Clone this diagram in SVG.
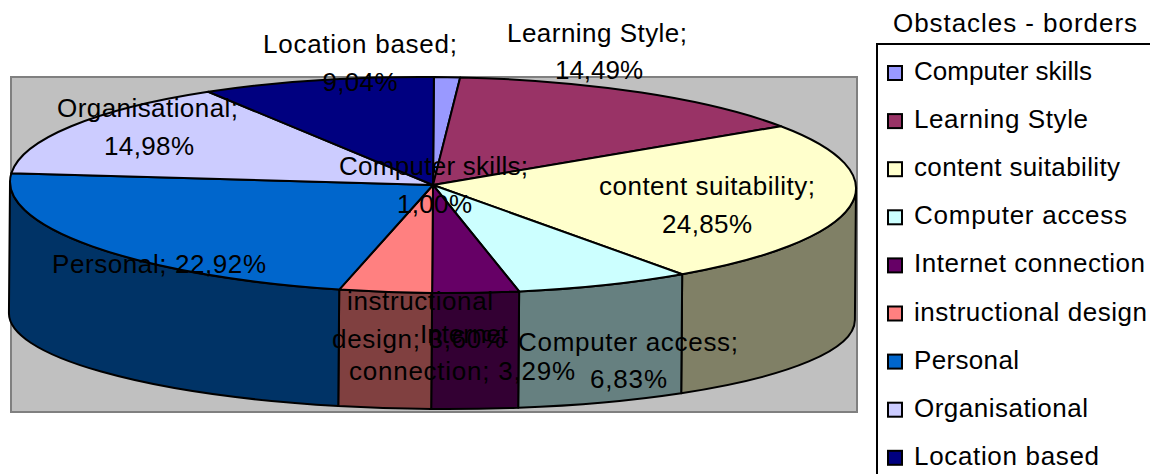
<svg xmlns="http://www.w3.org/2000/svg" width="1150" height="474" viewBox="0 0 1150 474">
<style>
text{font-family:"Liberation Sans",Arial,Helvetica,sans-serif;font-size:26px;fill:#000}
.lbl{text-anchor:middle}
.pie path{stroke:#000;stroke-width:2;stroke-linejoin:round}
.sw{stroke:#000;stroke-width:2}
</style>
<rect width="1150" height="474" fill="#fff"/>
<g id="plot-area">
<rect x="11" y="77" width="846" height="335" fill="#c0c0c0" stroke="#808080" stroke-width="2"/>
</g>
<g class="pie" transform="rotate(0.47 433 185)">
<g id="sides">
<path id="side-content-suitability" fill="#808066" d="M856,185 A423,108 0 0 1 682.91,272.14 L682.91,391.13 A423,92.5 0 0 0 856,316.5 Z"/>
<path id="side-computer-access" fill="#668080" d="M682.91,272.14 A423,108 0 0 1 520,290.69 L520,407.02 A423,92.5 0 0 0 682.91,391.13 Z"/>
<path id="side-internet-connection" fill="#330033" d="M520,290.69 A423,108 0 0 1 433,293 L433,409 A423,92.5 0 0 0 520,407.02 Z"/>
<path id="side-instructional-design" fill="#804040" d="M433,293 A423,108 0 0 1 340.08,290.37 L340.08,406.75 A423,92.5 0 0 0 433,409 Z"/>
<path id="side-personal" fill="#003366" d="M340.08,290.37 A423,108 0 0 1 10,185 L10,316.5 A423,92.5 0 0 0 340.08,406.75 Z"/>
</g>
<g id="slice-computer-skills"><path fill="#9999ff" d="M433,185 L433,77 A423,108 0 0 1 459.3,77.21 Z"/></g>
<g id="slice-learning-style"><path fill="#993366" d="M433,185 L459.3,77.21 A423,108 0 0 1 780.4,123.38 Z"/></g>
<g id="slice-content-suitability"><path fill="#ffffcc" d="M433,185 L780.4,123.38 A423,108 0 0 1 682.91,272.14 Z"/></g>
<g id="slice-computer-access"><path fill="#ccffff" d="M433,185 L682.91,272.14 A423,108 0 0 1 520,290.69 Z"/></g>
<g id="slice-internet-connection"><path fill="#660066" d="M433,185 L520,290.69 A423,108 0 0 1 433,293 Z"/></g>
<g id="slice-instructional-design"><path fill="#ff8080" d="M433,185 L433,293 A423,108 0 0 1 340.08,290.37 Z"/></g>
<g id="slice-personal"><path fill="#0066cc" d="M433,185 L340.08,290.37 A423,108 0 0 1 11.24,176.74 Z"/></g>
<g id="slice-organisational"><path fill="#ccccff" d="M433,185 L11.24,176.74 A423,108 0 0 1 207.45,93.63 Z"/></g>
<g id="slice-location-based"><path fill="#000080" d="M433,185 L207.45,93.63 A423,108 0 0 1 433,77 Z"/></g>
</g>
<g id="connectors"></g>
<g id="data-labels" class="lbl">
<text x="360" y="53" textLength="194">Location based;</text>
<text x="360" y="91" textLength="75">9,04%</text>
<text x="597" y="42" textLength="180">Learning Style;</text>
<text x="599" y="79" textLength="88">14,49%</text>
<text x="147.5" y="116.5" textLength="181">Organisational;</text>
<text x="149" y="155" textLength="90">14,98%</text>
<text x="433.5" y="175" textLength="189">Computer skills;</text>
<text x="434.5" y="213" textLength="75">1,00%</text>
<text x="707" y="195" textLength="216">content suitability;</text>
<text x="707" y="233" textLength="90">24,85%</text>
<text x="159" y="273" textLength="214">Personal; 22,92%</text>
<text x="420" y="310" textLength="146">instructional</text>
<text x="418.5" y="348" textLength="173">design; 3,60%</text>
<text x="464" y="343" textLength="88">Internet</text>
<text x="462" y="380" textLength="226">connection; 3,29%</text>
<text x="628" y="351" textLength="220">Computer access;</text>
<text x="628.5" y="388" textLength="77">6,83%</text>
</g>
<g id="legend">
<text x="1015" y="31.5" class="lbl" textLength="244">Obstacles - borders</text>
<rect x="877" y="44" width="300" height="500" fill="#fff" stroke="#000" stroke-width="2"/>
<g id="legend-computer-skills"><rect class="sw" x="888" y="66" width="14" height="14" fill="#9999ff"/><text x="914" y="80" textLength="178">Computer skills</text></g>
<g id="legend-learning-style"><rect class="sw" x="888" y="114.1" width="14" height="14" fill="#993366"/><text x="914" y="128.1" textLength="174">Learning Style</text></g>
<g id="legend-content-suitability"><rect class="sw" x="888" y="162.2" width="14" height="14" fill="#ffffcc"/><text x="914" y="176.2" textLength="206">content suitability</text></g>
<g id="legend-computer-access"><rect class="sw" x="888" y="210.3" width="14" height="14" fill="#ccffff"/><text x="914" y="224.3" textLength="213">Computer access</text></g>
<g id="legend-internet-connection"><rect class="sw" x="888" y="258.4" width="14" height="14" fill="#660066"/><text x="914" y="272.4" textLength="231">Internet connection</text></g>
<g id="legend-instructional-design"><rect class="sw" x="888" y="306.5" width="14" height="14" fill="#ff8080"/><text x="914" y="320.5" textLength="233">instructional design</text></g>
<g id="legend-personal"><rect class="sw" x="888" y="354.6" width="14" height="14" fill="#0066cc"/><text x="914" y="368.6" textLength="105">Personal</text></g>
<g id="legend-organisational"><rect class="sw" x="888" y="402.7" width="14" height="14" fill="#ccccff"/><text x="914" y="416.7" textLength="174">Organisational</text></g>
<g id="legend-location-based"><rect class="sw" x="888" y="450.8" width="14" height="14" fill="#000080"/><text x="914" y="464.8" textLength="185">Location based</text></g>
</g>
</svg>
